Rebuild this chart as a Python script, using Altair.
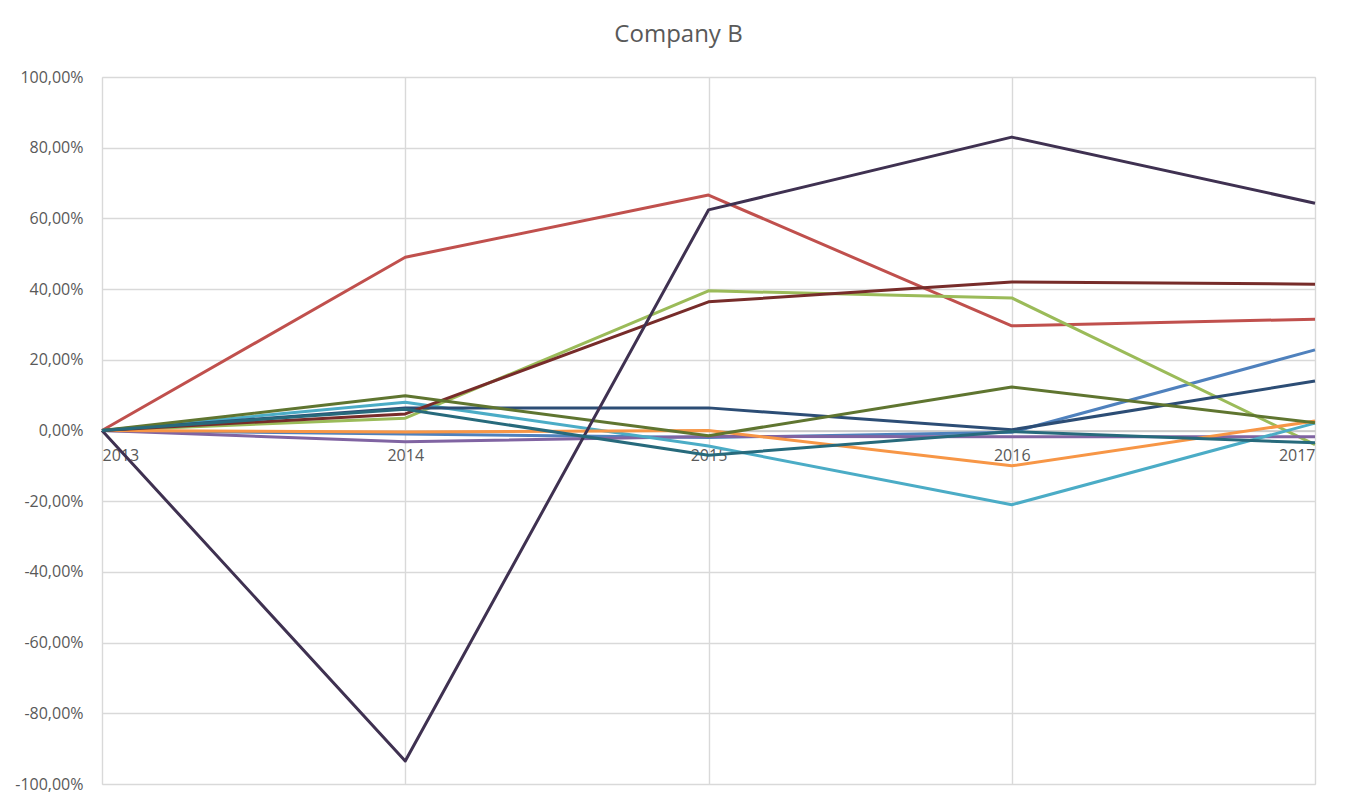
import altair as alt
import pandas as pd

years = [2013, 2014, 2015, 2016, 2017]
series_names = ["S1", "S2", "S3", "S4", "S5", "S6", "S7", "S8", "S9", "S10", "S11"]
series_colors = ["#4F81BD", "#C0504D", "#9BBB59", "#8064A2", "#4BACC6", "#F79646",
                 "#2C4D75", "#772C2A", "#5F7530", "#3F3151", "#276A7C"]
s1 = [0, -1.0, -2.0, -0.5, 22.8]
s2 = [0, 49.0, 66.6, 29.6, 31.5]
s3 = [0, 3.5, 39.5, 37.5, -4.0]
s4 = [0, -3.2, -1.7, -1.8, -1.8]
s5 = [0, 8.0, -4.4, -21.0, 2.1]
s6 = [0, -0.4, 0.0, -10.0, 2.7]
s7 = [0, 6.4, 6.4, 0.2, 14.0]
s8 = [0, 4.7, 36.4, 42.0, 41.4]
s9 = [0, 9.8, -1.5, 12.3, 2.2]
s10 = [0, -93.5, 62.4, 83.0, 64.3]
s11 = [0, 6.0, -7.0, -0.3, -3.5]
all_series = [s1, s2, s3, s4, s5, s6, s7, s8, s9, s10, s11]
y_ticks = [-100, -80, -60, -40, -20, 0, 20, 40, 60, 80, 100]

rows = []
for i, (name, vals) in enumerate(zip(series_names, all_series)):
    for yr, v in zip(years, vals):
        rows.append({"series": name, "year": yr, "value": v, "order": i})
df = pd.DataFrame(rows)

FONT = "Open Sans"
TXT = "#595959"

chart = alt.Chart(df).mark_line(strokeWidth=3, strokeJoin="round").encode(
    x=alt.X("year:Q",
            scale=alt.Scale(domain=[2013, 2017], nice=False, zero=False),
            axis=alt.Axis(values=years, format="d", title=None, offset=-353.5,
                          grid=True, gridColor="#D9D9D9", gridWidth=1.4,
                          domainColor="#C4C4C4", domainWidth=1.6, ticks=False,
                          labelPadding=17, labelFontSize=16, labelColor=TXT,
                          labelFont=FONT, labelBaseline="top")),
    y=alt.Y("value:Q",
            scale=alt.Scale(domain=[-100, 100], nice=False),
            axis=alt.Axis(values=y_ticks, title=None, domain=False, ticks=False,
                          labelExpr="replace(replace(format(datum.value, '.2f'), '.', ','), '\u2212', '-') + '%'",
                          grid=True, gridColor="#D9D9D9", gridWidth=1.4,
                          labelPadding=19, labelFontSize=16, labelColor=TXT,
                          labelFont=FONT)),
    color=alt.Color("series:N", scale=alt.Scale(domain=series_names, range=series_colors),
                    legend=None),
    order=alt.Order("order:Q"),
).properties(
    width=1213,
    height=707,
    autosize=alt.AutoSizeParams(type="none"),
    padding={"left": 94, "top": 69, "right": 34, "bottom": 16},
    title=alt.TitleParams("Company B", anchor="middle", dx=-30, offset=10,
                          baseline="middle", fontSize=24, font=FONT,
                          color=TXT, fontWeight="normal"),
).configure_view(strokeWidth=0).configure(background="white")

chart.save("out.html", embed_options={"renderer": "svg", "actions": False})
